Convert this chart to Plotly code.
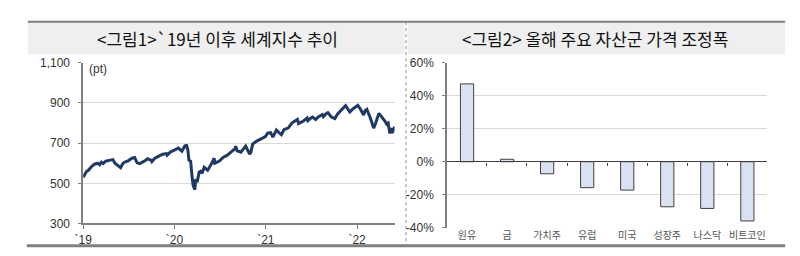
import plotly.graph_objects as go

# ---- Data: world index (pt) ----
idx_dates = [
    "2019-01-01","2019-01-08","2019-01-15","2019-01-22","2019-02-01","2019-02-15","2019-03-01","2019-03-08",
    "2019-03-15","2019-03-22","2019-04-01","2019-04-15","2019-04-30","2019-05-08","2019-05-15","2019-05-31",
    "2019-06-07","2019-06-15","2019-06-30","2019-07-15","2019-07-26","2019-08-05","2019-08-15","2019-08-28",
    "2019-09-05","2019-09-15","2019-09-30","2019-10-03","2019-10-15","2019-10-31","2019-11-15","2019-11-30",
    "2019-12-03","2019-12-15","2019-12-31",
    "2020-01-08","2020-01-17","2020-01-31","2020-02-07","2020-02-12","2020-02-19","2020-02-24","2020-02-28",
    "2020-03-06","2020-03-12","2020-03-16","2020-03-23","2020-03-26","2020-04-01","2020-04-09","2020-04-15",
    "2020-04-21","2020-04-29","2020-05-13","2020-05-29","2020-06-08","2020-06-11","2020-06-30","2020-07-15",
    "2020-07-31","2020-08-14","2020-08-31","2020-09-02","2020-09-08","2020-09-23","2020-10-12","2020-10-28",
    "2020-11-02","2020-11-09","2020-11-25","2020-12-15","2020-12-31",
    "2021-01-08","2021-01-20","2021-01-29","2021-02-12","2021-02-26","2021-03-04","2021-03-15","2021-03-31",
    "2021-04-15","2021-04-29","2021-05-07","2021-05-12","2021-05-31","2021-06-15","2021-06-18","2021-06-30",
    "2021-07-07","2021-07-19","2021-07-31","2021-08-15","2021-08-19","2021-08-31","2021-09-06","2021-09-20",
    "2021-09-30","2021-10-04","2021-10-15","2021-10-29","2021-11-08","2021-11-16","2021-11-30","2021-12-03",
    "2021-12-15","2021-12-31",
    "2022-01-04","2022-01-14","2022-01-27","2022-02-02","2022-02-09","2022-02-23","2022-03-08","2022-03-15",
    "2022-03-29","2022-04-05","2022-04-14","2022-04-22","2022-04-29","2022-05-05","2022-05-12","2022-05-17",
    "2022-05-20","2022-05-24","2022-05-31",
]
idx_values = [
    530, 548, 560, 565, 580, 595, 600, 592,
    605, 598, 610, 614, 618, 600, 592, 578,
    595, 605, 612, 625, 628, 602, 598, 605,
    612, 622, 615, 608, 625, 635, 645, 648,
    640, 655, 665,
    668, 675, 660, 680, 686, 688, 665, 615,
    610, 530, 490, 468, 520, 505, 555, 560,
    550, 580, 565, 598, 625, 600, 612, 630,
    640, 655, 672, 685, 662, 655, 685, 645,
    655, 695, 710, 722, 734,
    750, 752, 730, 765, 748, 742, 768, 775,
    800, 810, 818, 797, 810, 825, 812, 825,
    830, 818, 832, 842, 832, 848, 852, 830,
    825, 822, 845, 865, 880, 887, 860, 855,
    870, 882,
    888, 870, 840, 862, 868, 825, 775, 795,
    848, 838, 825, 810, 795, 800, 748, 775,
    752, 758, 782,
]
year_ticks = ["2019-01-01", "2020-01-01", "2021-01-01", "2022-01-01"]
year_labels = ["`19", "`20", "`21", "`22"]
idx_ticks = [300, 500, 700, 900, 1100]
idx_tick_labels = ["300", "500", "700", "900", "1,100"]

# ---- Data: asset price change this year (%) ----
assets = ["원유", "금", "가치주", "유럽", "미국", "성장주", "나스닥", "비트코인"]
changes = [47.2, 1.5, -7.3, -15.7, -17.2, -27.3, -28.3, -35.9]
pct_ticks = [-40, -20, 0, 20, 40, 60]
pct_tick_labels = ["-40%", "-20%", "0%", "20%", "40%", "60%"]

W, H = 800, 256
def px(x): return x / W
def py(y): return 1 - y / H

fig = go.Figure()

fig.add_trace(go.Scatter(
    x=idx_dates, y=idx_values, mode="lines",
    line=dict(color="#1f3864", width=3), xaxis="x", yaxis="y",
    showlegend=False, hoverinfo="skip"))

fig.add_trace(go.Bar(
    x=assets, y=changes, width=0.33,
    marker=dict(color="#d9e1f2", line=dict(color="#404040", width=1)),
    xaxis="x2", yaxis="y2", showlegend=False, hoverinfo="skip"))

# invisible trace to carry the zero-line axis with boundary ticks
fig.add_trace(go.Scatter(
    x=assets, y=[0] * len(assets), mode="markers", marker=dict(opacity=0),
    xaxis="x3", yaxis="y2", showlegend=False, hoverinfo="skip"))

axis_font = dict(family="Liberation Sans, Noto Sans CJK KR", size=12, color="#333333")

fig.update_layout(
    width=W, height=H, margin=dict(l=0, r=0, t=0, b=0),
    paper_bgcolor="white", plot_bgcolor="white",
    font=axis_font,
    xaxis=dict(
        domain=[px(75), px(390)], anchor="y", type="date",
        range=["2019-01-01", "2022-05-31"],
        tickmode="array", tickvals=year_ticks, ticktext=year_labels,
        showgrid=False, showline=True, linecolor="#808080", linewidth=1.5,
        ticks="outside", ticklen=4, tickcolor="#808080",
        tickfont=dict(size=12, color="#333333"),
    ),
    yaxis=dict(
        domain=[py(229), py(59)], anchor="x",
        range=[300, 1100], tickmode="array", tickvals=idx_ticks, ticktext=idx_tick_labels,
        showgrid=True, gridcolor="#d9d9d9", gridwidth=1,
        showline=True, linecolor="#808080", linewidth=1.5,
        ticks="outside", ticklen=3, tickcolor="#808080", zeroline=False,
        tickfont=dict(size=12, color="#333333"), ticklabelstandoff=6,
    ),
    xaxis2=dict(
        domain=[px(443), px(767)], anchor="y2", type="category",
        categoryorder="array", categoryarray=assets,
        showgrid=False, showline=False, ticks="",
        tickfont=dict(size=10, color="#555555", family="Noto Sans CJK KR"),
    ),
    xaxis3=dict(
        domain=[px(443), px(767)], anchor="free", overlaying="x2",
        position=py(163.3), type="category",
        categoryorder="array", categoryarray=assets,
        showgrid=False, showline=True, linecolor="#404040", linewidth=1.3,
        ticks="outside", tickson="boundaries", ticklen=3, tickcolor="#404040",
        showticklabels=False,
    ),
    yaxis2=dict(
        domain=[py(233.5), py(59)], anchor="x2",
        range=[-40, 60], tickmode="array", tickvals=pct_ticks, ticktext=pct_tick_labels,
        showgrid=True, gridcolor="#d9d9d9", gridwidth=1,
        showline=True, linecolor="#808080", linewidth=1.5,
        ticks="outside", ticklen=3, tickcolor="#808080", zeroline=False,
        tickfont=dict(size=12, color="#333333"), ticklabelstandoff=6,
    ),
)

shapes = []
# title bands
shapes.append(dict(type="rect", xref="paper", yref="paper",
                   x0=px(19), x1=px(400), y0=py(50), y1=py(16),
                   fillcolor="#efefef", line=dict(width=0), layer="below"))
shapes.append(dict(type="rect", xref="paper", yref="paper",
                   x0=px(403), x1=px(785), y0=py(50), y1=py(16),
                   fillcolor="#efefef", line=dict(width=0), layer="below"))
# top rule
shapes.append(dict(type="line", xref="paper", yref="paper",
                   x0=px(19), x1=px(785), y0=py(15.5), y1=py(15.5),
                   line=dict(color="#7f7f7f", width=2)))
# bottom rule
shapes.append(dict(type="line", xref="paper", yref="paper",
                   x0=px(18), x1=px(785), y0=py(252.5), y1=py(252.5),
                   line=dict(color="#7f7f7f", width=3)))
# dotted separator
shapes.append(dict(type="line", xref="paper", yref="paper",
                   x0=px(401.5), x1=px(401.5), y0=py(16), y1=py(256),
                   line=dict(color="#8c8c8c", width=1, dash="dot")))
fig.update_layout(shapes=shapes)

title_font = dict(family="Noto Sans CJK KR", size=17, color="#111111")
fig.add_annotation(text="<그림1>`19년 이후 세계지수 추이", xref="paper", yref="paper",
                   x=px(211), y=py(33), showarrow=False, font=title_font,
                   xanchor="center", yanchor="middle")
fig.add_annotation(text="<그림2> 올해 주요 자산군 가격 조정폭", xref="paper", yref="paper",
                   x=px(593), y=py(33), showarrow=False, font=title_font,
                   xanchor="center", yanchor="middle")
fig.add_annotation(text="(pt)", xref="paper", yref="paper",
                   x=px(79), y=py(66), showarrow=False,
                   font=dict(family="Liberation Sans", size=12, color="#333333"),
                   xanchor="left", yanchor="middle")

fig.write_html("out.html")
